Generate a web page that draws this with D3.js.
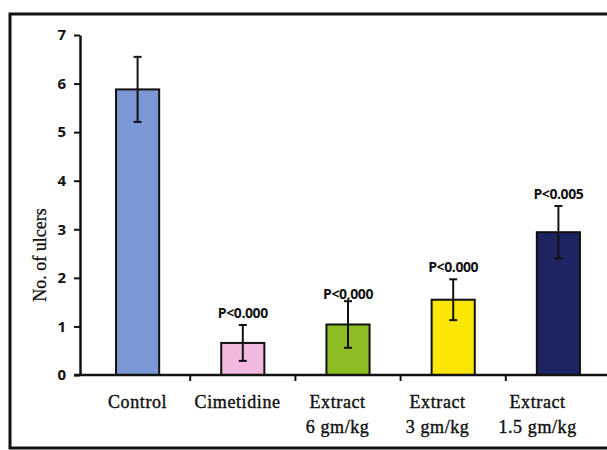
<!DOCTYPE html>
<html>
<head>
<meta charset="utf-8">
<script src="https://cdn.jsdelivr.net/npm/d3@7"></script>
<style>
  body { margin: 0; background: #fff; }
</style>
</head>
<body>
<div id="chart"></div>
<script>
// data
var groups = ["Control", "Cimetidine", "Extract\n6 gm/kg", "Extract\n3 gm/kg", "Extract\n1.5 gm/kg"];
var ulcers = [5.88, 0.66, 1.04, 1.55, 2.94];
var errors = [0.67, 0.37, 0.48, 0.42, 0.54];
var pLabels = ["", "P<0.000", "P<0,000", "P<0.000", "P<0.005"];
var barColors = ["#7c97d6", "#f1b9de", "#8dbd22", "#fbe504", "#1d2461"];
var yTicks = [0, 1, 2, 3, 4, 5, 6, 7];

var W = 607, H = 450;
var margin = {top: 35, right: -4, bottom: 75, left: 80};

var svg = d3.select("#chart").append("svg")
  .attr("width", W)
  .attr("height", H);

// figure frame (runs off the right edge)
svg.append("path")
  .attr("d", "M620,14 L10,14 L10,448 L620,448")
  .attr("fill", "none")
  .attr("stroke", "#111")
  .attr("stroke-width", 3);

var plotLeft = margin.left, plotRight = W - margin.right;
var plotTop = margin.top, plotBottom = H - margin.bottom;

var x = d3.scaleBand()
  .domain(groups)
  .range([85, 611])
  .paddingInner(0.59)
  .paddingOuter(0.295);

var y = d3.scaleLinear()
  .domain([0, 7])
  .range([plotBottom, plotTop]);

// bars
svg.selectAll(".bar")
  .data(groups)
  .enter().append("rect")
  .attr("class", "bar")
  .attr("x", d => x(d))
  .attr("width", x.bandwidth())
  .attr("y", (d, i) => y(ulcers[i]))
  .attr("height", (d, i) => y(0) - y(ulcers[i]))
  .attr("fill", (d, i) => barColors[i])
  .attr("stroke", "#111")
  .attr("stroke-width", 2);

// error bars
var eb = svg.selectAll(".err")
  .data(groups)
  .enter().append("g")
  .attr("class", "err")
  .attr("stroke", "#111")
  .attr("stroke-width", 2);

eb.append("line")
  .attr("x1", d => x(d) + x.bandwidth() / 2)
  .attr("x2", d => x(d) + x.bandwidth() / 2)
  .attr("y1", (d, i) => y(ulcers[i] + errors[i]))
  .attr("y2", (d, i) => y(ulcers[i] - errors[i]));

eb.append("line")
  .attr("x1", d => x(d) + x.bandwidth() / 2 - 4)
  .attr("x2", d => x(d) + x.bandwidth() / 2 + 4)
  .attr("y1", (d, i) => y(ulcers[i] + errors[i]))
  .attr("y2", (d, i) => y(ulcers[i] + errors[i]));

eb.append("line")
  .attr("x1", d => x(d) + x.bandwidth() / 2 - 4)
  .attr("x2", d => x(d) + x.bandwidth() / 2 + 4)
  .attr("y1", (d, i) => y(ulcers[i] - errors[i]))
  .attr("y2", (d, i) => y(ulcers[i] - errors[i]));

// significance labels above the error bars
svg.selectAll(".plab")
  .data(groups)
  .enter().append("text")
  .attr("class", "plab")
  .attr("x", d => x(d) + x.bandwidth() / 2)
  .attr("y", (d, i) => y(ulcers[i] + errors[i]) - (i == 2 ? 2 : 7))
  .attr("text-anchor", "middle")
  .style("font-family", "'Open Sans', 'DejaVu Sans', sans-serif")
  .style("font-weight", "bold")
  .style("font-size", "14px")
  .style("letter-spacing", "-0.4px")
  .attr("fill", "#111")
  .text((d, i) => pLabels[i]);

// y axis
var yAxis = svg.append("g")
  .attr("transform", "translate(" + plotLeft + ",0)")
  .call(d3.axisLeft(y).tickValues(yTicks).tickFormat(d3.format("d"))
    .tickSize(6).tickSizeOuter(0).tickPadding(8));

yAxis.select(".domain").attr("stroke", "#111").attr("stroke-width", 2.5);
yAxis.selectAll(".tick line").attr("stroke", "#111").attr("stroke-width", 2);
yAxis.selectAll(".tick text")
  .style("font-family", "'Open Sans', 'DejaVu Sans', sans-serif")
  .style("font-weight", "bold")
  .style("font-size", "15px")
  .attr("fill", "#111");

// x axis: baseline with ticks on the group boundaries
var boundaries = groups.map(d => x(d) - x.step() * x.paddingInner() / 2).slice(1);
svg.append("line")
  .attr("x1", plotLeft - 6)
  .attr("x2", plotRight + 10)
  .attr("y1", y(0))
  .attr("y2", y(0))
  .attr("stroke", "#111")
  .attr("stroke-width", 2.5);

svg.selectAll(".xtick")
  .data(boundaries)
  .enter().append("line")
  .attr("x1", d => d)
  .attr("x2", d => d)
  .attr("y1", y(0))
  .attr("y2", y(0) + 6)
  .attr("stroke", "#111")
  .attr("stroke-width", 2);

// category labels (slightly tighter than the bars, as in the scan)
var labelStep = 100;
var catLabels = svg.selectAll(".cat")
  .data(groups)
  .enter().append("text")
  .attr("class", "cat")
  .attr("text-anchor", "middle")
  .style("font-family", "'Liberation Serif', 'DejaVu Serif', serif")
  .style("font-size", "18px")
  .style("letter-spacing", "0.6px")
  .attr("fill", "#111")
  .attr("stroke", "#111")
  .attr("stroke-width", 0.4)
  .attr("transform", (d, i) => "translate(" + (x(groups[0]) + x.bandwidth() / 2 + i * labelStep) + "," + (y(0) + 33) + ")");

catLabels.selectAll("tspan")
  .data(d => d.split("\n"))
  .enter().append("tspan")
  .attr("x", 0)
  .attr("dy", (d, i) => i == 0 ? 0 : 25)
  .text(d => d);

// y axis title
svg.append("text")
  .attr("transform", "translate(46," + ((plotTop + plotBottom) / 2 + 50) + ") rotate(-90)")
  .attr("text-anchor", "middle")
  .style("font-family", "'Liberation Serif', 'DejaVu Serif', serif")
  .style("font-size", "18px")
  .attr("fill", "#111")
  .attr("stroke", "#111")
  .attr("stroke-width", 0.3)
  .text("No. of ulcers");
</script>
</body>
</html>
